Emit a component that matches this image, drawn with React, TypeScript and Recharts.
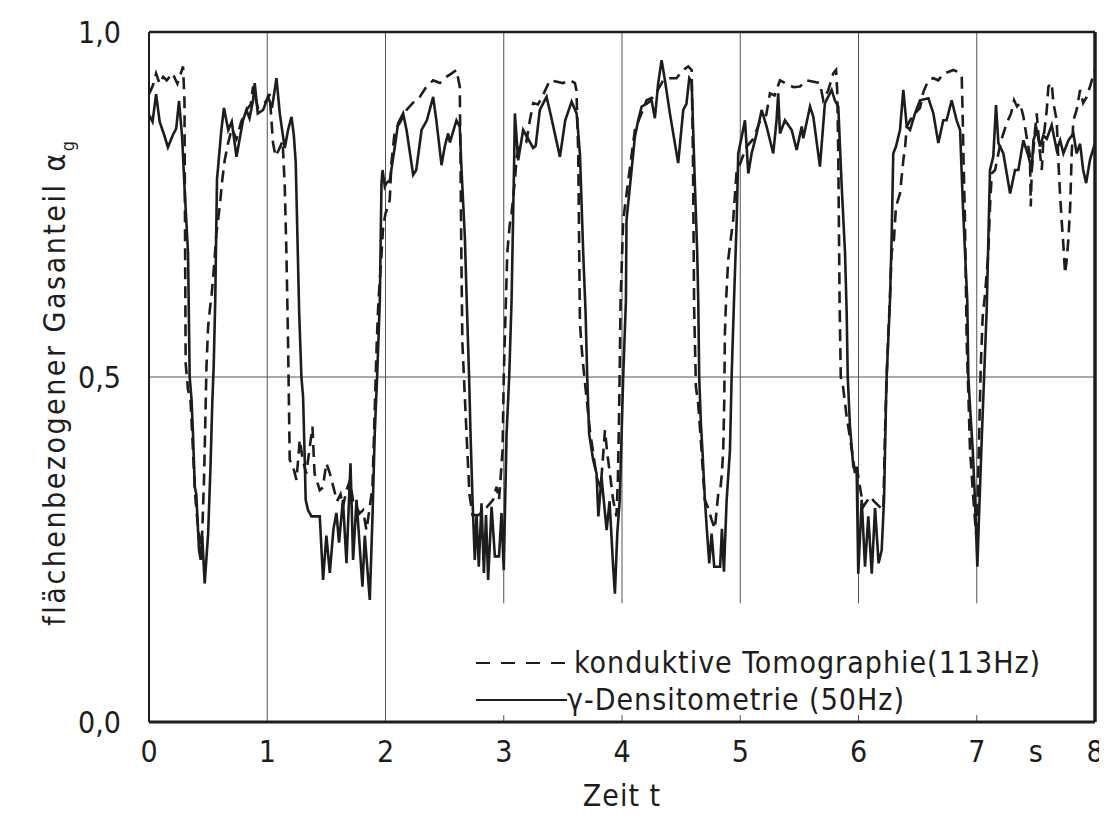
import React from 'react';
import { LineChart, Line, XAxis, YAxis, ReferenceLine } from 'recharts';

// time axis (s) and gas fraction
const gammaT = [0, 0.03, 0.06, 0.09, 0.13, 0.16, 0.2, 0.23, 0.254, 0.28, 0.3, 0.33, 0.344, 0.36, 0.372, 0.387, 0.4, 0.423, 0.437, 0.45, 0.471, 0.5, 0.52, 0.536, 0.547, 0.56, 0.575, 0.612, 0.634, 0.67, 0.7, 0.74, 0.795, 0.824, 0.85, 0.88, 0.894, 0.92, 0.965, 1.007, 1.04, 1.078, 1.106, 1.134, 1.148, 1.176, 1.205, 1.225, 1.241, 1.27, 1.289, 1.303, 1.317, 1.325, 1.345, 1.374, 1.444, 1.472, 1.5, 1.529, 1.56, 1.585, 1.607, 1.64, 1.67, 1.704, 1.726, 1.755, 1.805, 1.825, 1.867, 1.89, 1.909, 1.929, 1.952, 1.966, 1.975, 1.994, 2.008, 2.036, 2.079, 2.107, 2.149, 2.178, 2.234, 2.26, 2.305, 2.35, 2.403, 2.43, 2.474, 2.501, 2.53, 2.545, 2.6, 2.628, 2.643, 2.671, 2.69, 2.707, 2.719, 2.736, 2.755, 2.77, 2.789, 2.812, 2.832, 2.85, 2.868, 2.897, 2.925, 2.96, 2.981, 3.0, 3.024, 3.046, 3.066, 3.088, 3.094, 3.122, 3.164, 3.19, 3.249, 3.27, 3.305, 3.362, 3.4, 3.475, 3.52, 3.574, 3.616, 3.644, 3.672, 3.692, 3.706, 3.722, 3.756, 3.785, 3.8, 3.827, 3.87, 3.895, 3.925, 3.94, 3.96, 3.98, 3.997, 4.01, 4.033, 4.038, 4.081, 4.109, 4.137, 4.166, 4.21, 4.25, 4.278, 4.306, 4.335, 4.363, 4.405, 4.475, 4.518, 4.545, 4.569, 4.589, 4.617, 4.636, 4.645, 4.653, 4.667, 4.68, 4.701, 4.72, 4.738, 4.758, 4.78, 4.83, 4.845, 4.862, 4.885, 4.913, 4.927, 4.947, 4.97, 4.983, 5.012, 5.04, 5.068, 5.096, 5.139, 5.181, 5.223, 5.279, 5.307, 5.321, 5.336, 5.378, 5.435, 5.477, 5.52, 5.533, 5.59, 5.618, 5.674, 5.716, 5.773, 5.8, 5.829, 5.858, 5.886, 5.9, 5.909, 5.928, 5.956, 5.985, 5.998, 6.027, 6.055, 6.083, 6.112, 6.14, 6.17, 6.196, 6.216, 6.233, 6.238, 6.266, 6.28, 6.294, 6.317, 6.351, 6.379, 6.408, 6.436, 6.478, 6.52, 6.591, 6.633, 6.675, 6.717, 6.745, 6.788, 6.83, 6.859, 6.882, 6.901, 6.92, 6.929, 6.943, 6.966, 6.985, 7.005, 7.022, 7.042, 7.062, 7.084, 7.112, 7.14, 7.163, 7.183, 7.225, 7.282, 7.324, 7.352, 7.394, 7.437, 7.465, 7.479, 7.507, 7.535, 7.563, 7.592, 7.634, 7.676, 7.705, 7.733, 7.775, 7.817, 7.845, 7.874, 7.9, 7.925, 7.958, 8.0];
const gammaV = [0.88, 0.87, 0.91, 0.87, 0.85, 0.833, 0.85, 0.86, 0.9, 0.848, 0.776, 0.68, 0.5, 0.467, 0.418, 0.341, 0.33, 0.249, 0.235, 0.269, 0.201, 0.273, 0.37, 0.467, 0.515, 0.61, 0.786, 0.858, 0.89, 0.858, 0.87, 0.819, 0.872, 0.887, 0.875, 0.901, 0.926, 0.882, 0.887, 0.906, 0.89, 0.933, 0.882, 0.848, 0.832, 0.858, 0.877, 0.85, 0.81, 0.593, 0.5, 0.471, 0.38, 0.322, 0.307, 0.298, 0.298, 0.206, 0.27, 0.216, 0.28, 0.303, 0.26, 0.322, 0.23, 0.375, 0.235, 0.322, 0.196, 0.27, 0.177, 0.298, 0.418, 0.5, 0.61, 0.781, 0.8, 0.776, 0.781, 0.785, 0.834, 0.868, 0.882, 0.858, 0.793, 0.8, 0.858, 0.872, 0.906, 0.872, 0.807, 0.834, 0.853, 0.84, 0.872, 0.863, 0.8, 0.703, 0.593, 0.5, 0.418, 0.322, 0.235, 0.3, 0.225, 0.317, 0.216, 0.3, 0.206, 0.312, 0.24, 0.24, 0.303, 0.22, 0.418, 0.5, 0.61, 0.814, 0.882, 0.814, 0.858, 0.85, 0.832, 0.835, 0.887, 0.906, 0.878, 0.819, 0.872, 0.899, 0.882, 0.824, 0.68, 0.593, 0.5, 0.418, 0.38, 0.36, 0.298, 0.355, 0.278, 0.32, 0.225, 0.186, 0.273, 0.32, 0.418, 0.5, 0.61, 0.727, 0.8, 0.848, 0.872, 0.892, 0.896, 0.901, 0.875, 0.926, 0.959, 0.93, 0.882, 0.81, 0.887, 0.896, 0.933, 0.928, 0.776, 0.68, 0.61, 0.5, 0.433, 0.394, 0.322, 0.273, 0.23, 0.273, 0.225, 0.225, 0.28, 0.218, 0.322, 0.394, 0.5, 0.61, 0.727, 0.824, 0.848, 0.872, 0.795, 0.824, 0.853, 0.887, 0.863, 0.824, 0.872, 0.911, 0.853, 0.872, 0.858, 0.829, 0.863, 0.846, 0.892, 0.877, 0.805, 0.897, 0.916, 0.901, 0.892, 0.776, 0.68, 0.593, 0.5, 0.428, 0.37, 0.36, 0.215, 0.322, 0.225, 0.298, 0.215, 0.31, 0.23, 0.249, 0.322, 0.467, 0.5, 0.61, 0.7, 0.824, 0.834, 0.858, 0.916, 0.863, 0.858, 0.882, 0.901, 0.904, 0.882, 0.839, 0.872, 0.872, 0.901, 0.872, 0.858, 0.752, 0.68, 0.61, 0.5, 0.457, 0.394, 0.322, 0.225, 0.312, 0.409, 0.5, 0.597, 0.8, 0.82, 0.894, 0.839, 0.824, 0.766, 0.8, 0.8, 0.843, 0.82, 0.8, 0.843, 0.858, 0.834, 0.85, 0.845, 0.865, 0.829, 0.843, 0.824, 0.843, 0.853, 0.824, 0.838, 0.8, 0.781, 0.815, 0.839];

const tomoT = [0, 0.034, 0.06, 0.09, 0.12, 0.15, 0.2, 0.24, 0.288, 0.3, 0.305, 0.31, 0.33, 0.35, 0.37, 0.39, 0.41, 0.425, 0.443, 0.455, 0.465, 0.471, 0.486, 0.5, 0.514, 0.53, 0.55, 0.57, 0.598, 0.62, 0.64, 0.669, 0.7, 0.74, 0.78, 0.824, 0.86, 0.88, 0.92, 0.993, 1.02, 1.049, 1.07, 1.1, 1.13, 1.148, 1.162, 1.176, 1.185, 1.19, 1.218, 1.247, 1.275, 1.3, 1.33, 1.36, 1.382, 1.4, 1.444, 1.47, 1.5, 1.53, 1.56, 1.59, 1.62, 1.64, 1.67, 1.7, 1.726, 1.755, 1.78, 1.81, 1.839, 1.867, 1.89, 1.909, 1.924, 1.94, 1.96, 1.98, 2.0, 2.02, 2.036, 2.05, 2.079, 2.12, 2.178, 2.23, 2.29, 2.347, 2.403, 2.46, 2.515, 2.56, 2.6, 2.628, 2.634, 2.64, 2.65, 2.671, 2.69, 2.71, 2.736, 2.79, 2.85, 2.91, 2.939, 2.96, 2.99, 3.0, 3.018, 3.03, 3.05, 3.066, 3.094, 3.11, 3.136, 3.19, 3.221, 3.249, 3.29, 3.333, 3.39, 3.45, 3.5, 3.56, 3.602, 3.615, 3.63, 3.644, 3.655, 3.67, 3.7, 3.73, 3.757, 3.784, 3.82, 3.856, 3.875, 3.897, 3.925, 3.953, 3.965, 3.975, 3.981, 3.988, 4.01, 4.053, 4.08, 4.109, 4.16, 4.208, 4.26, 4.3, 4.349, 4.405, 4.46, 4.518, 4.56, 4.589, 4.6, 4.61, 4.625, 4.645, 4.67, 4.685, 4.7, 4.73, 4.758, 4.785, 4.814, 4.83, 4.845, 4.856, 4.865, 4.87, 4.88, 4.898, 4.92, 4.94, 4.97, 5.0, 5.054, 5.11, 5.17, 5.22, 5.251, 5.29, 5.336, 5.39, 5.45, 5.505, 5.56, 5.62, 5.674, 5.702, 5.745, 5.787, 5.81, 5.82, 5.829, 5.84, 5.85, 5.87, 5.9, 5.93, 5.956, 5.97, 5.985, 6.012, 6.04, 6.07, 6.1, 6.13, 6.16, 6.19, 6.21, 6.224, 6.238, 6.252, 6.265, 6.28, 6.3, 6.317, 6.351, 6.365, 6.379, 6.395, 6.408, 6.436, 6.48, 6.52, 6.548, 6.591, 6.633, 6.675, 6.717, 6.76, 6.802, 6.845, 6.873, 6.882, 6.887, 6.9, 6.915, 6.93, 6.943, 6.972, 6.994, 7.005, 7.014, 7.025, 7.034, 7.05, 7.07, 7.098, 7.112, 7.127, 7.155, 7.183, 7.21, 7.254, 7.29, 7.316, 7.34, 7.366, 7.394, 7.42, 7.45, 7.457, 7.465, 7.493, 7.507, 7.535, 7.55, 7.563, 7.592, 7.606, 7.634, 7.648, 7.676, 7.69, 7.704, 7.718, 7.733, 7.747, 7.761, 7.775, 7.79, 7.803, 7.817, 7.845, 7.874, 7.9, 7.93, 7.958, 7.99, 8.0];
const tomoV = [0.91, 0.923, 0.94, 0.925, 0.935, 0.93, 0.94, 0.925, 0.95, 0.9, 0.7, 0.52, 0.481, 0.47, 0.4, 0.33, 0.29, 0.27, 0.24, 0.3, 0.35, 0.394, 0.515, 0.573, 0.597, 0.62, 0.66, 0.708, 0.747, 0.786, 0.814, 0.839, 0.86, 0.845, 0.87, 0.887, 0.895, 0.921, 0.89, 0.9, 0.91, 0.839, 0.82, 0.83, 0.842, 0.776, 0.68, 0.55, 0.442, 0.38, 0.37, 0.351, 0.409, 0.38, 0.36, 0.399, 0.428, 0.36, 0.336, 0.34, 0.375, 0.36, 0.34, 0.32, 0.33, 0.312, 0.336, 0.35, 0.32, 0.312, 0.302, 0.307, 0.278, 0.312, 0.341, 0.452, 0.539, 0.61, 0.66, 0.718, 0.737, 0.747, 0.757, 0.81, 0.858, 0.868, 0.887, 0.897, 0.906, 0.921, 0.93, 0.926, 0.935, 0.94, 0.945, 0.921, 0.824, 0.7, 0.55, 0.471, 0.4, 0.33, 0.3, 0.3, 0.31, 0.322, 0.341, 0.322, 0.394, 0.5, 0.61, 0.68, 0.72, 0.737, 0.785, 0.82, 0.834, 0.84, 0.872, 0.897, 0.895, 0.909, 0.93, 0.928, 0.926, 0.93, 0.926, 0.915, 0.824, 0.58, 0.55, 0.52, 0.47, 0.42, 0.39, 0.355, 0.34, 0.423, 0.39, 0.361, 0.322, 0.298, 0.35, 0.442, 0.515, 0.61, 0.727, 0.785, 0.82, 0.858, 0.88, 0.901, 0.905, 0.915, 0.93, 0.933, 0.933, 0.945, 0.95, 0.945, 0.82, 0.6, 0.486, 0.46, 0.4, 0.36, 0.322, 0.31, 0.293, 0.28, 0.331, 0.335, 0.36, 0.394, 0.467, 0.563, 0.61, 0.67, 0.7, 0.727, 0.8, 0.81, 0.834, 0.845, 0.872, 0.88, 0.911, 0.908, 0.93, 0.925, 0.92, 0.921, 0.93, 0.928, 0.926, 0.901, 0.916, 0.94, 0.945, 0.915, 0.824, 0.61, 0.5, 0.485, 0.442, 0.41, 0.38, 0.36, 0.37, 0.341, 0.312, 0.32, 0.327, 0.32, 0.315, 0.31, 0.307, 0.418, 0.5, 0.563, 0.61, 0.68, 0.7, 0.747, 0.766, 0.79, 0.814, 0.835, 0.863, 0.872, 0.882, 0.89, 0.913, 0.93, 0.933, 0.93, 0.94, 0.942, 0.945, 0.942, 0.935, 0.87, 0.824, 0.73, 0.55, 0.47, 0.394, 0.322, 0.273, 0.3, 0.37, 0.45, 0.515, 0.587, 0.62, 0.68, 0.747, 0.795, 0.8, 0.824, 0.845, 0.868, 0.882, 0.901, 0.892, 0.897, 0.878, 0.85, 0.82, 0.747, 0.8, 0.858, 0.882, 0.824, 0.8, 0.843, 0.887, 0.921, 0.926, 0.897, 0.872, 0.814, 0.766, 0.727, 0.69, 0.65, 0.67, 0.7, 0.747, 0.824, 0.872, 0.887, 0.916, 0.897, 0.906, 0.921, 0.94, 0.945];

const xTicks = [0, 1, 2, 3, 4, 5, 6, 7, 7.5, 8];
const yTicks = [0, 0.5, 1];
const fullGrid = [1, 2];
const shortGrid = [3, 4, 5, 6, 7];

const gammaData = gammaT.map((t, i) => ({ t, v: gammaV[i] }));
const tomoData = tomoT.map((t, i) => ({ t, v: tomoV[i] }));

const FONT = '"DejaVu Sans Condensed", "Liberation Sans Narrow", sans-serif';
const INK = '#1d1d1d';

const YLabel = () => {
  const x = 65;
  const cy = 382;
  return (
    <text x={x} y={cy} transform={`rotate(-90, ${x}, ${cy})`} textAnchor="middle"
      fontFamily={FONT} fontSize={30} letterSpacing={2.5} fill={INK}>
      flächenbezogener Gasanteil α
      <tspan dy={9} fontSize={18}>g</tspan>
    </text>
  );
};

const XLabel = () => (
  <text x={622} y={806} textAnchor="middle" fontFamily={FONT} fontSize={30} letterSpacing={1} fill={INK}>
    Zeit t
  </text>
);

export default function App() {
  // negative margins cancel the body margin so chart pixels match page pixels
  return (
    <div style={{ position: 'relative', width: 1107, height: 816, margin: '-8px 0 -8px -8px' }}>
      <LineChart width={1107} height={816} margin={{ top: 32, right: 12, left: 79, bottom: 34 }}>
        <XAxis type="number" dataKey="t" domain={[0, 8]} ticks={xTicks} interval={0}
          tickFormatter={(v: number) => (v === 7.5 ? 's' : String(v))}
          tickLine={false} tickSize={0} tickMargin={14} height={60}
          axisLine={{ stroke: INK, strokeWidth: 3 }}
          tick={{ fontFamily: FONT, fontSize: 30, fill: INK, dy: 5 }}
          label={{ content: XLabel }} />
        <YAxis type="number" domain={[0, 1]} ticks={yTicks} width={70}
          tickFormatter={(v: number) => v.toFixed(1).replace('.', ',')}
          tickLine={false} tickSize={0} tickMargin={28}
          axisLine={{ stroke: INK, strokeWidth: 2 }}
          tick={{ fontFamily: FONT, fontSize: 30, fill: INK }}
          label={{ content: YLabel }} />
        {fullGrid.map((x) => (
          <ReferenceLine key={'g' + x} x={x} stroke="#555" strokeWidth={1} />
        ))}
        {shortGrid.map((x) => (
          <ReferenceLine key={'s' + x} segment={[{ x, y: 0.172 }, { x, y: 1 }]} stroke="#555" strokeWidth={1} />
        ))}
        {shortGrid.map((x) => (
          <ReferenceLine key={'t' + x} segment={[{ x, y: 0 }, { x, y: 0.01 }]} stroke="#555" strokeWidth={1} />
        ))}
        <ReferenceLine y={0.5} stroke="#555" strokeWidth={1} />
        <ReferenceLine y={1} stroke={INK} strokeWidth={2.5} />
        <ReferenceLine x={8} stroke={INK} strokeWidth={3.5} />
        <Line data={tomoData} dataKey="v" type="linear" stroke={INK} strokeWidth={2.6}
          strokeDasharray="12 7" dot={false} isAnimationActive={false} name="tomo" />
        <Line data={gammaData} dataKey="v" type="linear" stroke={INK} strokeWidth={2.6}
          dot={false} isAnimationActive={false} name="gamma" />
      </LineChart>
      <div style={{ position: 'absolute', left: 476, top: 644, fontFamily: FONT, fontSize: 30,
        letterSpacing: 1, color: INK, lineHeight: '37px' }}>
        <div style={{ display: 'flex', alignItems: 'center' }}>
          <svg width={98} height={10}>
            <line x1={0} y1={5} x2={90} y2={5} stroke={INK} strokeWidth={2} strokeDasharray="14 11" />
          </svg>
          <span>konduktive Tomographie(113Hz)</span>
        </div>
        <div style={{ display: 'flex', alignItems: 'center' }}>
          <svg width={91} height={10}>
            <line x1={0} y1={5} x2={91} y2={5} stroke={INK} strokeWidth={2} />
          </svg>
          <span>γ-Densitometrie (50Hz)</span>
        </div>
      </div>
    </div>
  );
}
